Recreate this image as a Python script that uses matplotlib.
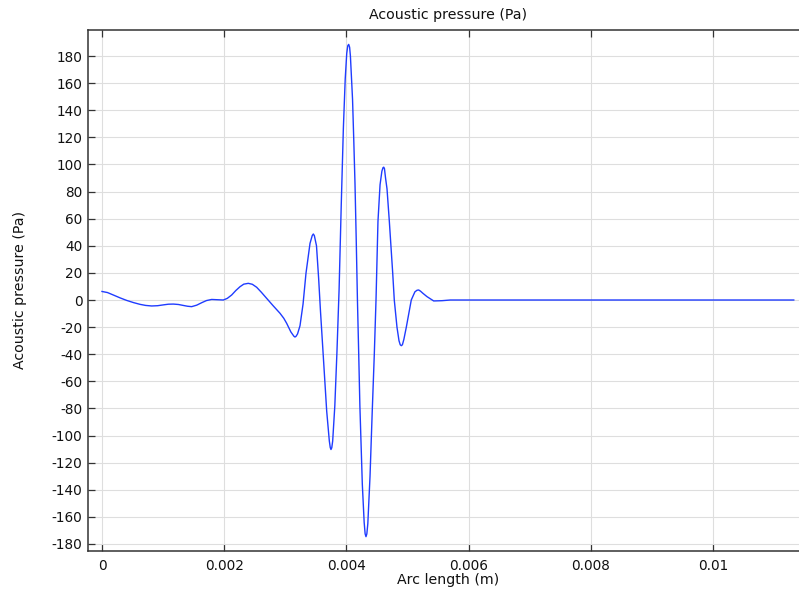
import matplotlib
matplotlib.use("Agg")
import matplotlib.pyplot as plt

plt.rcParams['font.family'] = ['DejaVu Sans']
plt.rcParams['axes.unicode_minus'] = False

arc_length = [
    0.0, 0.00009, 0.000185, 0.0003, 0.000404, 0.000515, 0.000622, 0.000715,
    0.000813, 0.00091, 0.001003, 0.001085, 0.001167, 0.00125, 0.00133, 0.00140,
    0.001467, 0.00155, 0.001631, 0.00171, 0.001795, 0.00189, 0.001985, 0.00205,
    0.002122, 0.00219, 0.002258, 0.00232, 0.002394, 0.00246, 0.002531, 0.00261,
    0.002695, 0.0028, 0.002913, 0.002975, 0.003022, 0.00309, 0.00314, 0.003158,
    0.003175, 0.0032, 0.00324, 0.00329, 0.003338, 0.003404, 0.00344, 0.003458,
    0.003475, 0.00351, 0.003545, 0.003575, 0.003622, 0.003677, 0.00372, 0.003735,
    0.003747, 0.00376, 0.003775, 0.00381, 0.003845, 0.00388, 0.003915, 0.00395,
    0.00398, 0.004005, 0.004022, 0.004037, 0.004052, 0.004065, 0.0041, 0.00412,
    0.00414, 0.00416, 0.00418, 0.0042, 0.00422, 0.00426, 0.00429, 0.004306,
    0.00432, 0.004334, 0.00435, 0.004386, 0.00442, 0.004456, 0.004484, 0.004516,
    0.00455, 0.00458, 0.004598, 0.00461, 0.004622, 0.00464, 0.004664, 0.004702,
    0.004757, 0.004783, 0.004827, 0.00486, 0.00488, 0.004898, 0.004916, 0.00494,
    0.00498, 0.005061, 0.00512, 0.005155, 0.005182, 0.00521, 0.00525, 0.005318,
    0.005428, 0.005564, 0.0057, 0.0065, 0.008, 0.0095, 0.01132,
]
pressure = [
    6.3, 5.5, 3.7, 1.5, -0.3, -1.9, -3.2, -4.0,
    -4.4, -4.2, -3.6, -3.1, -3.0, -3.3, -4.0, -4.6,
    -4.9, -3.8, -2.0, -0.4, 0.4, 0.2, 0.0, 1.2,
    3.7, 7.0, 9.8, 11.7, 12.3, 11.6, 9.4, 5.6,
    1.2, -4.2, -9.8, -13.5, -17.2, -23.5, -26.7, -27.3,
    -26.8, -25.0, -19.0, -3.0, 19.7, 41.8, 47.5, 48.7,
    47.5, 40.0, 16.0, -8.0, -42.0, -82.0, -104.0, -108.8,
    -110.3, -109.0, -104.0, -78.0, -38.0, 8.0, 70.0, 127.0,
    163.0, 182.0, 187.6, 188.6, 186.5, 180.0, 148.0, 118.0,
    86.0, 45.0, 0.0, -38.0, -78.0, -136.0, -164.0, -172.5,
    -174.6, -172.5, -165.0, -130.0, -85.0, -40.0, 0.0, 58.0,
    85.0, 95.0, 97.6, 98.0, 97.0, 90.0, 82.0, 58.0,
    20.0, 0.0, -20.0, -30.0, -33.0, -33.7, -33.0, -29.0,
    -20.0, 0.0, 6.0, 7.2, 7.4, 6.6, 5.0, 2.5,
    -0.7, -0.5, 0.0, 0.0, 0.0, 0.0, 0.0,
]

x_ticks = [0, 0.002, 0.004, 0.006, 0.008, 0.01]
x_tick_labels = ["0", "0.002", "0.004", "0.006", "0.008", "0.01"]
y_ticks = list(range(-180, 181, 20))

fig = plt.figure(figsize=(7.99, 5.90), dpi=100)
ax = fig.add_axes([88 / 799, (590 - 550.5) / 590, (808 - 88) / 799, (550.5 - 30) / 590])

ax.plot(arc_length, pressure, color='#1f3cff', lw=1.0, zorder=3)

ax.set_xlim(-0.000229, 0.011553)
ax.set_ylim(-184.8, 199.2)
ax.set_xticks(x_ticks)
ax.set_xticklabels(x_tick_labels)
ax.set_yticks(y_ticks)
ax.set_yticklabels([str(v) for v in y_ticks])

ax.grid(True, color='#dedede', lw=0.8)
ax.set_axisbelow(True)

ax.tick_params(axis='both', direction='in', length=5, width=0.9, color='#333333',
               labelsize=9.8, labelcolor='#111111', top=True, right=False)
ax.tick_params(axis='x', pad=6)
ax.tick_params(axis='y', pad=4)

for side in ['left', 'top', 'bottom']:
    ax.spines[side].set_color('#333333')
    ax.spines[side].set_linewidth(1.1)
ax.spines['right'].set_visible(False)

ax.set_title("Acoustic pressure (Pa)", fontsize=10.2, pad=8, color='#111111')
ax.set_xlabel("Arc length (m)", fontsize=10.2, labelpad=0, color='#111111')
ax.set_ylabel("Acoustic pressure (Pa)", fontsize=10.2, labelpad=18, color='#111111')

fig.savefig("out.png", dpi=100)
